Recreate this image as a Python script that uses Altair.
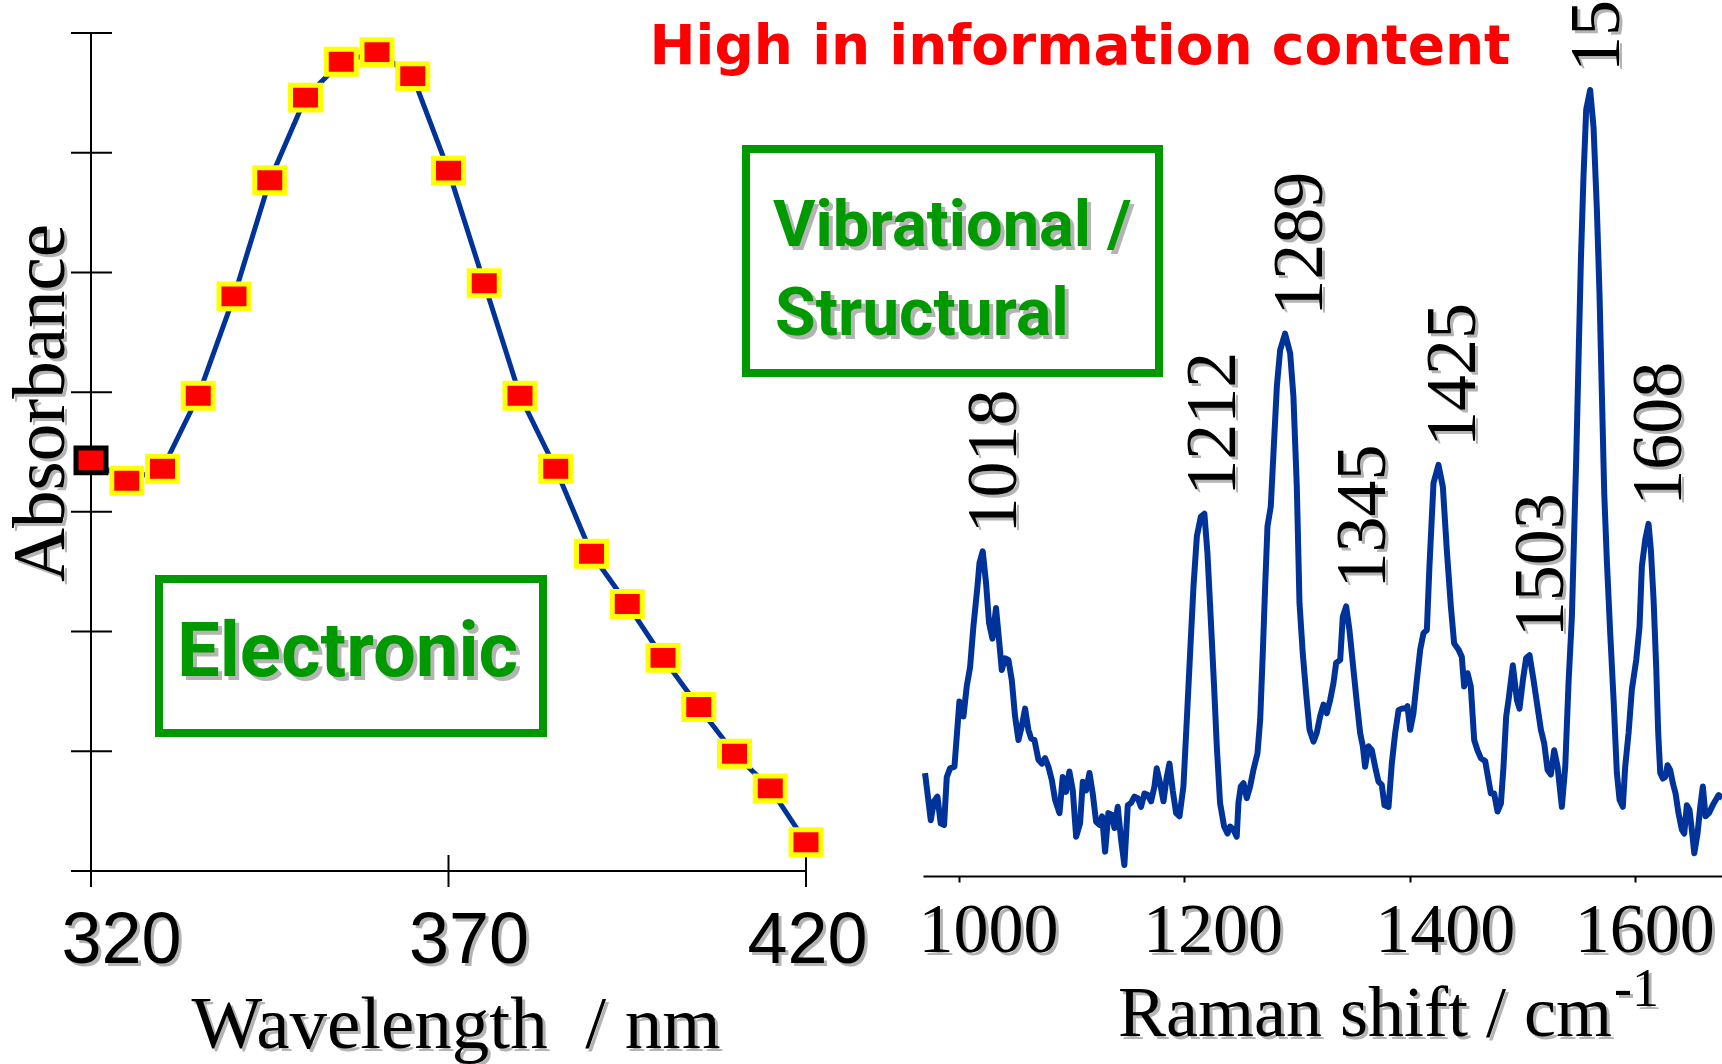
import altair as alt
import pandas as pd

# ---------------- UV-vis absorption band (left panel) ----------------
wavelength_nm = [320, 325, 330, 335, 340, 345, 350, 355, 360, 365, 370,
                 375, 380, 385, 390, 395, 400, 405, 410, 415, 420]
absorbance = [3.43, 3.26, 3.36, 3.97, 4.80, 5.77, 6.46, 6.76, 6.84, 6.64, 5.85,
              4.91, 3.97, 3.36, 2.65, 2.23, 1.78, 1.37, 0.98, 0.69, 0.24]
absorbance_ticks = [0, 1, 2, 3, 4, 5, 6, 7]
wavelength_ticks = [320, 370, 420]

# ---------------- Raman spectrum (right panel) ----------------
raman_shift = [
    969.8, 974.9, 977.8, 980.8, 983.7, 986.7, 989.1, 992.0, 995.9, 1000.3,
    1003.9, 1006.8, 1009.8, 1012.7, 1016.3, 1018.1, 1021.0, 1024.0, 1026.6, 1029.6,
    1032.8, 1035.5, 1037.9, 1040.8, 1043.8, 1046.8, 1049.7, 1052.7, 1055.6, 1058.6,
    1061.5, 1063.9, 1066.9, 1070.4, 1073.4, 1076.3, 1079.3, 1082.3, 1085.2, 1089.1,
    1092.0, 1095.0, 1097.9, 1100.9, 1103.9, 1107.4, 1109.8, 1112.7, 1115.7, 1118.6,
    1121.6, 1124.6, 1126.9, 1129.6, 1132.5, 1135.5, 1137.9, 1140.8, 1143.8, 1146.7,
    1149.7, 1152.7, 1155.6, 1158.6, 1161.5, 1164.5, 1167.5, 1170.4, 1173.4, 1175.4,
    1178.4, 1181.4, 1184.3, 1186.7, 1189.6, 1192.6, 1195.6, 1199.1, 1202.1, 1205.0,
    1208.0, 1211.0, 1214.5, 1217.7, 1220.4, 1223.4, 1226.3, 1228.7, 1231.6, 1235.2,
    1238.2, 1240.5, 1243.5, 1246.4, 1247.9, 1250.0, 1252.4, 1255.3, 1258.3, 1261.2,
    1264.8, 1267.2, 1269.5, 1271.6, 1273.7, 1276.6, 1279.0, 1282.0, 1284.9, 1289.3,
    1293.8, 1296.7, 1299.7, 1302.1, 1305.0, 1308.0, 1311.0, 1314.5, 1317.4, 1320.4,
    1323.4, 1326.3, 1329.3, 1332.2, 1334.6, 1338.2, 1340.5, 1343.5, 1346.4, 1350.0,
    1353.0, 1355.9, 1358.3, 1360.3, 1363.3, 1366.3, 1369.2, 1372.2, 1375.1, 1377.5,
    1381.1, 1384.0, 1387.0, 1390.0, 1392.9, 1395.9, 1397.9, 1400.3, 1403.2, 1406.2,
    1409.2, 1412.1, 1415.1, 1417.4, 1421.0, 1425.4, 1429.3, 1432.8, 1436.4, 1439.3,
    1443.2, 1446.1, 1448.2, 1451.2, 1454.1, 1457.1, 1460.0, 1463.0, 1466.9, 1469.8,
    1471.9, 1474.8, 1477.8, 1480.8, 1483.1, 1485.5, 1487.6, 1491.4, 1495.0, 1497.3,
    1500.3, 1503.2, 1506.2, 1509.8, 1513.3, 1516.3, 1519.2, 1522.2, 1525.1, 1528.1,
    1531.1, 1534.9, 1537.9, 1540.8, 1543.8, 1545.8, 1547.6, 1549.7, 1551.8, 1554.1,
    1556.5, 1560.0, 1563.0, 1566.0, 1568.3, 1570.4, 1572.5, 1574.8, 1577.8, 1580.8,
    1583.7, 1586.1, 1589.0, 1591.1, 1594.1, 1597.0, 1600.9, 1603.8, 1605.9, 1608.9,
    1611.8, 1613.9, 1616.3, 1618.6, 1620.4, 1622.2, 1624.5, 1626.6, 1628.7, 1631.0,
    1633.4, 1635.8, 1638.4, 1641.4, 1643.5, 1645.8, 1648.2, 1650.6, 1652.4, 1655.3,
    1657.7, 1660.0, 1662.4, 1665.4, 1669.5, 1674.0, 1677.2,
]
raman_intensity = [
    13.1, 7.1, 9.5, 10.1, 6.7, 6.5, 12.6, 13.7, 13.9, 22.2,
    20.3, 24.1, 26.6, 31.7, 36.8, 39.8, 41.3, 37.2, 32.2, 30.2,
    34.1, 30.0, 26.2, 27.7, 27.5, 24.9, 20.3, 17.3, 19.0, 21.3,
    18.6, 17.5, 17.3, 14.8, 14.3, 15.0, 13.9, 12.2, 9.7, 8.0,
    12.6, 10.7, 13.3, 10.9, 5.0, 6.7, 12.0, 10.9, 13.1, 10.5,
    6.9, 6.5, 7.6, 3.1, 8.0, 7.8, 6.1, 8.8, 4.6, 1.4,
    9.0, 9.3, 10.1, 9.9, 8.8, 10.5, 10.3, 9.5, 11.4, 13.7,
    11.8, 9.5, 12.6, 14.3, 10.9, 8.0, 7.6, 11.4, 19.9, 28.3,
    36.8, 43.2, 45.7, 46.1, 41.1, 32.6, 24.1, 16.5, 9.3, 6.3,
    5.4, 6.3, 5.9, 5.0, 9.3, 11.4, 11.8, 9.9, 11.4, 13.5,
    15.6, 19.9, 28.3, 36.8, 44.5, 47.0, 53.8, 62.3, 66.9, 69.0,
    66.5, 61.0, 49.5, 34.7, 28.3, 23.2, 18.6, 17.1, 18.2, 20.3,
    21.8, 20.7, 22.4, 24.5, 27.1, 27.5, 33.0, 34.3, 31.3, 26.2,
    22.0, 18.2, 16.5, 13.9, 16.5, 16.0, 13.9, 12.0, 11.6, 9.0,
    8.8, 14.3, 18.2, 21.1, 21.3, 21.3, 21.6, 18.6, 20.7, 24.9,
    28.8, 30.9, 31.3, 39.4, 50.0, 52.3, 49.5, 41.5, 34.3, 29.6,
    28.8, 27.9, 24.1, 25.8, 24.1, 17.3, 16.0, 15.0, 14.6, 12.2,
    10.5, 10.5, 8.2, 9.2, 13.9, 20.3, 22.4, 26.8, 22.4, 21.3,
    24.9, 27.7, 28.1, 24.9, 21.5, 18.6, 16.9, 13.5, 12.9, 16.0,
    13.9, 8.8, 13.9, 24.5, 33.0, 43.6, 52.9, 65.7, 78.4, 89.0,
    97.5, 100.0, 95.3, 84.7, 74.1, 61.4, 48.7, 40.2, 30.9, 22.4,
    13.1, 9.7, 8.8, 13.9, 18.2, 23.7, 27.5, 31.7, 39.4, 42.8,
    44.8, 41.5, 35.1, 26.6, 18.2, 13.1, 12.4, 12.6, 14.1, 13.5,
    11.8, 10.5, 8.0, 5.9, 5.4, 9.0, 8.4, 5.4, 2.9, 5.4,
    8.8, 11.4, 7.6, 8.0, 9.2, 10.3, 9.9,
]
raman_ticks = [1000, 1200, 1400, 1600]
peak_positions = [1018, 1212, 1289, 1345, 1425, 1503, 1553, 1608]

# ---------------- styling ----------------
BLUE = "#003399"
GREEN = "#009900"
SHADOW = "#b4b4b4"
SERIF = "Liberation Serif"
SANS = "Liberation Sans"
BOLD_SANS = "Roboto"
HAND = "Comic Sans MS, DejaVu Sans"

LEFT_X = alt.Scale(domain=[320, 420], range=[91, 806], nice=False, zero=False)
LEFT_Y = alt.Scale(domain=[0, 7], range=[871, 33], nice=False, zero=False)
RIGHT_X = alt.Scale(domain=[968, 1677], range=[923, 1722], nice=False, zero=False)
RIGHT_Y = alt.Scale(domain=[0, 100], range=[876, 90], nice=False, zero=False)

# tick-label nudges along each axis (px)
LEFT_LABEL_SHIFT = {320: 30, 370: 20, 420: 1}
RIGHT_LABEL_SHIFT = {1000: 29, 1200: 28, 1400: 35, 1600: 9}


def shifted(mapping, extra=0):
    return {
        "condition": [{"test": f"datum.value == {k}", "value": v + extra}
                      for k, v in mapping.items()],
        "value": extra,
    }


uv = pd.DataFrame({"wl": wavelength_nm, "abs": absorbance})
raman = pd.DataFrame({"shift": raman_shift, "inten": raman_intensity})

# each peak label sits above the local maximum of the spectrum
rows = []
for p in peak_positions:
    win = raman[(raman["shift"] >= p - 6) & (raman["shift"] <= p + 12)]
    rows.append({"shift": p, "inten": float(win["inten"].max()), "label": str(p)})
peaks = pd.DataFrame(rows)

FRAME = pd.DataFrame({"k": [0]})
abs_tick_df = pd.DataFrame({"a": absorbance_ticks})
wl_tick_df = pd.DataFrame({"wl": wavelength_ticks})
raman_tick_df = pd.DataFrame({"shift": raman_ticks})


def text(txt, x, y, size, font, color, weight="normal", align="left",
         angle=0, shadow=3):
    out = []
    props = dict(text=txt, font=font, fontSize=size, fontWeight=weight,
                 align=align, baseline="alphabetic", angle=angle)
    if shadow:
        out.append(alt.Chart(FRAME).mark_text(color=SHADOW, **props).encode(
            x=alt.value(x + shadow), y=alt.value(y + shadow)))
    out.append(alt.Chart(FRAME).mark_text(color=color, **props).encode(
        x=alt.value(x), y=alt.value(y)))
    return out


layers = []

# ---- left panel: axis lines with crossing ticks ----
layers.append(alt.Chart(FRAME).mark_rule(color="black", strokeWidth=2).encode(
    x=alt.value(91), y=alt.value(33), y2=alt.value(887)))
layers.append(alt.Chart(FRAME).mark_rule(color="black", strokeWidth=2).encode(
    x=alt.value(71), x2=alt.value(806), y=alt.value(871)))
layers.append(alt.Chart(abs_tick_df).mark_rule(color="black", strokeWidth=2).encode(
    y=alt.Y("a:Q", scale=LEFT_Y, axis=None), x=alt.value(71), x2=alt.value(112)))

left_axis_common = dict(values=wavelength_ticks, orient="bottom", domain=False,
                        ticks=False, grid=False, title="", labelFont=SANS,
                        labelFontSize=72, labelBaseline="alphabetic", format="d",
                        labelFlush=False, labelOverlap=False, labelBound=False)
# shadow copy of the tick labels
layers.append(alt.Chart(wl_tick_df).mark_point(opacity=0).encode(
    x=alt.X("wl:Q", scale=LEFT_X, axis=alt.Axis(
        labelColor=SHADOW, labelPadding=94,
        labelOffset=shifted(LEFT_LABEL_SHIFT, 3), **left_axis_common))))
layers.append(alt.Chart(wl_tick_df).mark_rule(color="black", strokeWidth=2).encode(
    x=alt.X("wl:Q", scale=LEFT_X, axis=alt.Axis(
        labelColor="black", labelPadding=91,
        labelOffset=shifted(LEFT_LABEL_SHIFT), **left_axis_common)),
    y=alt.value(855), y2=alt.value(887)))

# ---- left panel: absorption curve with square markers ----
layers.append(alt.Chart(uv).mark_line(color=BLUE, strokeWidth=5).encode(
    x=alt.X("wl:Q", scale=LEFT_X, axis=None),
    y=alt.Y("abs:Q", scale=LEFT_Y, axis=None)))
layers.append(alt.Chart(uv).mark_point(
    shape="M-1,-0.83L1,-0.83L1,0.83L-1,0.83Z", size=900, filled=True,
    fill="#ff0000", strokeWidth=5, opacity=1).encode(
    x=alt.X("wl:Q", scale=LEFT_X, axis=None),
    y=alt.Y("abs:Q", scale=LEFT_Y, axis=None),
    stroke=alt.condition(alt.datum.wl == 320, alt.value("black"),
                         alt.value("#ffff00"))))

# ---- right panel: Raman spectrum ----
right_axis_common = dict(values=raman_ticks, orient="bottom", offset=5,
                         grid=False, title="", labelFont=SERIF, format="d",
                         labelFontSize=70, labelBaseline="alphabetic",
                         labelFlush=False, labelOverlap=False, labelBound=False)
layers.append(alt.Chart(raman_tick_df).mark_point(opacity=0).encode(
    x=alt.X("shift:Q", scale=RIGHT_X, axis=alt.Axis(
        domain=False, ticks=False, labelColor=SHADOW, labelPadding=78,
        labelOffset=shifted(RIGHT_LABEL_SHIFT, 3), **right_axis_common))))
layers.append(alt.Chart(raman).mark_line(color=BLUE, strokeWidth=6,
                                         strokeJoin="round").encode(
    x=alt.X("shift:Q", scale=RIGHT_X, axis=alt.Axis(
        domain=True, domainColor="black", domainWidth=2,
        ticks=True, tickColor="black", tickWidth=2, tickSize=6,
        labelColor="black", labelPadding=69,
        labelOffset=shifted(RIGHT_LABEL_SHIFT), **right_axis_common)),
    y=alt.Y("inten:Q", scale=RIGHT_Y, axis=None)))

# peak position labels (rotated, reading upwards)
for color, ddx, ddy in [(SHADOW, 15, 40), ("black", 18, 37)]:
    layers.append(alt.Chart(peaks).mark_text(
        angle=270, align="left", baseline="alphabetic", font=SERIF,
        fontSize=72, color=color, dx=ddx, dy=ddy).encode(
        x=alt.X("shift:Q", scale=RIGHT_X, axis=None),
        y=alt.Y("inten:Q", scale=RIGHT_Y, axis=None),
        text="label:N"))

# ---- boxes and annotations ----
layers.append(alt.Chart(FRAME).mark_rect(fillOpacity=0, stroke=GREEN,
                                         strokeWidth=8).encode(
    x=alt.value(159), x2=alt.value(543), y=alt.value(579), y2=alt.value(733)))
layers.append(alt.Chart(FRAME).mark_rect(fillOpacity=0, stroke=GREEN,
                                         strokeWidth=8).encode(
    x=alt.value(746), x2=alt.value(1159), y=alt.value(149), y2=alt.value(373)))

layers += text("Electronic", 177, 676, 76, BOLD_SANS, GREEN, weight="bold", shadow=4)
layers += text("Vibrational /", 773, 246, 65, BOLD_SANS, GREEN, weight="bold", shadow=4)
layers += text("Structural", 775, 335, 66, BOLD_SANS, GREEN, weight="bold", shadow=4)
layers += text("High in information content", 1080, 64, 55, HAND, "#ff0000",
               weight="bold", align="center", shadow=0)
layers += text("Absorbance", 64, 403, 75, SERIF, "black", align="center", angle=270)
layers += text("Wavelength\u00a0\u00a0/ nm", 456, 1048, 75, SERIF, "black",
               align="center")
layers += text("Raman shift / cm", 1118, 1036, 72, SERIF, "black")
layers += text("-1", 1614, 1006, 54, SERIF, "black")

chart = (
    alt.layer(*layers)
    .resolve_scale(x="independent", y="independent")
    .properties(width=1722, height=871, autosize="none",
                padding={"left": 0, "top": 0, "right": 0, "bottom": 193},
                background="white")
    .configure_view(strokeWidth=0)
)

chart.save("out.html", embed_options={"renderer": "svg", "actions": False})
